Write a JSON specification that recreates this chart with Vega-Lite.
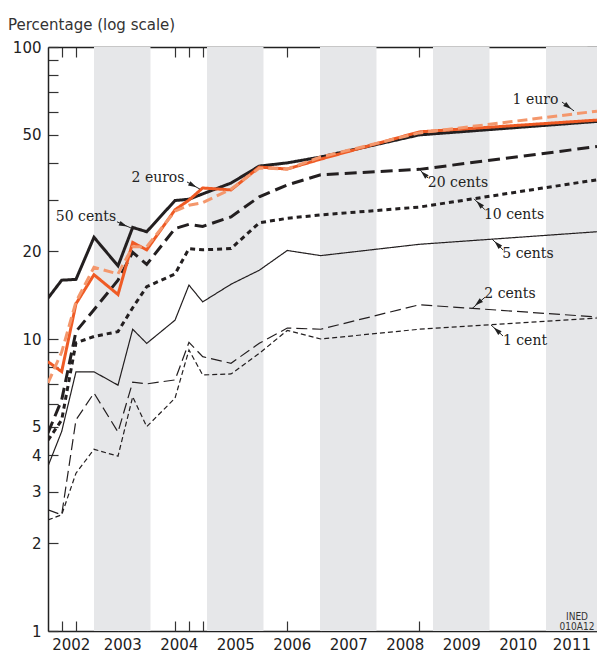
{
  "$schema": "https://vega.github.io/schema/vega-lite/v6.json",
  "width": 549,
  "height": 584,
  "autosize": "none",
  "padding": {"left": 48, "top": 47, "right": 0, "bottom": 22},
  "background": "white",
  "config": {"view": {"stroke": null}, "axis": {"grid": false}},
  "title": {"text": "Percentage (log scale)", "anchor": "start", "frame": "group", "dx": -40, "offset": -5, "baseline": "alphabetic", "font": "DejaVu Sans", "fontSize": 15, "fontWeight": "normal", "color": "#333333"},
  "datasets": {
    "bands": [{"start": 2003, "end": 2004}, {"start": 2005, "end": 2006}, {"start": 2007, "end": 2008}, {"start": 2009, "end": 2010}, {"start": 2011, "end": 2012}],
    "lines": [
      {"coin": "5 cents", "year": 2002.186, "pct": 3.67}, {"coin": "5 cents", "year": 2002.428, "pct": 4.82}, {"coin": "5 cents", "year": 2002.681, "pct": 7.72}, {"coin": "5 cents", "year": 2003.0, "pct": 7.72}, {"coin": "5 cents", "year": 2003.425, "pct": 6.95}, {"coin": "5 cents", "year": 2003.685, "pct": 10.8}, {"coin": "5 cents", "year": 2003.933, "pct": 9.66}, {"coin": "5 cents", "year": 2004.434, "pct": 11.6}, {"coin": "5 cents", "year": 2004.681, "pct": 15.3}, {"coin": "5 cents", "year": 2004.924, "pct": 13.4}, {"coin": "5 cents", "year": 2005.425, "pct": 15.4}, {"coin": "5 cents", "year": 2005.926, "pct": 17.2}, {"coin": "5 cents", "year": 2006.421, "pct": 20.1}, {"coin": "5 cents", "year": 2007.012, "pct": 19.3}, {"coin": "5 cents", "year": 2008.757, "pct": 21.1}, {"coin": "5 cents", "year": 2011.903, "pct": 23.3},
      {"coin": "2 cents", "year": 2002.186, "pct": 2.6}, {"coin": "2 cents", "year": 2002.428, "pct": 2.5}, {"coin": "2 cents", "year": 2002.681, "pct": 5.28}, {"coin": "2 cents", "year": 2003.0, "pct": 6.53}, {"coin": "2 cents", "year": 2003.425, "pct": 4.8}, {"coin": "2 cents", "year": 2003.685, "pct": 7.12}, {"coin": "2 cents", "year": 2003.933, "pct": 7.02}, {"coin": "2 cents", "year": 2004.434, "pct": 7.24}, {"coin": "2 cents", "year": 2004.681, "pct": 9.74}, {"coin": "2 cents", "year": 2004.924, "pct": 8.7}, {"coin": "2 cents", "year": 2005.425, "pct": 8.26}, {"coin": "2 cents", "year": 2005.926, "pct": 9.67}, {"coin": "2 cents", "year": 2006.421, "pct": 10.9}, {"coin": "2 cents", "year": 2007.012, "pct": 10.8}, {"coin": "2 cents", "year": 2008.757, "pct": 13.1}, {"coin": "2 cents", "year": 2011.903, "pct": 11.9},
      {"coin": "1 cent", "year": 2002.186, "pct": 2.4}, {"coin": "1 cent", "year": 2002.428, "pct": 2.5}, {"coin": "1 cent", "year": 2002.681, "pct": 3.47}, {"coin": "1 cent", "year": 2003.0, "pct": 4.19}, {"coin": "1 cent", "year": 2003.425, "pct": 3.97}, {"coin": "1 cent", "year": 2003.685, "pct": 6.34}, {"coin": "1 cent", "year": 2003.933, "pct": 5.01}, {"coin": "1 cent", "year": 2004.434, "pct": 6.27}, {"coin": "1 cent", "year": 2004.681, "pct": 9.17}, {"coin": "1 cent", "year": 2004.924, "pct": 7.53}, {"coin": "1 cent", "year": 2005.425, "pct": 7.59}, {"coin": "1 cent", "year": 2005.926, "pct": 8.93}, {"coin": "1 cent", "year": 2006.421, "pct": 10.7}, {"coin": "1 cent", "year": 2007.012, "pct": 10.0}, {"coin": "1 cent", "year": 2008.757, "pct": 10.8}, {"coin": "1 cent", "year": 2011.903, "pct": 11.8},
      {"coin": "50 cents", "year": 2002.186, "pct": 13.8}, {"coin": "50 cents", "year": 2002.428, "pct": 15.9}, {"coin": "50 cents", "year": 2002.681, "pct": 16.0}, {"coin": "50 cents", "year": 2003.0, "pct": 22.3}, {"coin": "50 cents", "year": 2003.425, "pct": 17.8}, {"coin": "50 cents", "year": 2003.685, "pct": 24.1}, {"coin": "50 cents", "year": 2003.933, "pct": 23.3}, {"coin": "50 cents", "year": 2004.434, "pct": 29.8}, {"coin": "50 cents", "year": 2004.681, "pct": 30.1}, {"coin": "50 cents", "year": 2004.924, "pct": 31.4}, {"coin": "50 cents", "year": 2005.425, "pct": 34.2}, {"coin": "50 cents", "year": 2005.926, "pct": 39.1}, {"coin": "50 cents", "year": 2006.421, "pct": 40.1}, {"coin": "50 cents", "year": 2007.012, "pct": 42.0}, {"coin": "50 cents", "year": 2008.757, "pct": 50.0}, {"coin": "50 cents", "year": 2011.903, "pct": 55.6},
      {"coin": "20 cents", "year": 2002.186, "pct": 4.77}, {"coin": "20 cents", "year": 2002.428, "pct": 6.18}, {"coin": "20 cents", "year": 2002.681, "pct": 10.6}, {"coin": "20 cents", "year": 2003.0, "pct": 12.6}, {"coin": "20 cents", "year": 2003.425, "pct": 15.9}, {"coin": "20 cents", "year": 2003.685, "pct": 19.8}, {"coin": "20 cents", "year": 2003.933, "pct": 18.0}, {"coin": "20 cents", "year": 2004.434, "pct": 23.9}, {"coin": "20 cents", "year": 2004.681, "pct": 24.7}, {"coin": "20 cents", "year": 2004.924, "pct": 24.3}, {"coin": "20 cents", "year": 2005.425, "pct": 26.2}, {"coin": "20 cents", "year": 2005.926, "pct": 30.7}, {"coin": "20 cents", "year": 2006.421, "pct": 33.7}, {"coin": "20 cents", "year": 2007.012, "pct": 36.5}, {"coin": "20 cents", "year": 2008.757, "pct": 38.1}, {"coin": "20 cents", "year": 2011.903, "pct": 45.6},
      {"coin": "10 cents", "year": 2002.186, "pct": 4.5}, {"coin": "10 cents", "year": 2002.428, "pct": 5.28}, {"coin": "10 cents", "year": 2002.681, "pct": 9.7}, {"coin": "10 cents", "year": 2003.0, "pct": 10.2}, {"coin": "10 cents", "year": 2003.425, "pct": 10.6}, {"coin": "10 cents", "year": 2003.685, "pct": 12.8}, {"coin": "10 cents", "year": 2003.933, "pct": 15.1}, {"coin": "10 cents", "year": 2004.434, "pct": 16.7}, {"coin": "10 cents", "year": 2004.681, "pct": 20.4}, {"coin": "10 cents", "year": 2004.924, "pct": 20.2}, {"coin": "10 cents", "year": 2005.425, "pct": 20.4}, {"coin": "10 cents", "year": 2005.926, "pct": 25.0}, {"coin": "10 cents", "year": 2006.421, "pct": 25.9}, {"coin": "10 cents", "year": 2007.012, "pct": 26.6}, {"coin": "10 cents", "year": 2008.757, "pct": 28.3}, {"coin": "10 cents", "year": 2011.903, "pct": 35.1},
      {"coin": "2 euros", "year": 2002.186, "pct": 8.36}, {"coin": "2 euros", "year": 2002.428, "pct": 7.73}, {"coin": "2 euros", "year": 2002.681, "pct": 13.2}, {"coin": "2 euros", "year": 2003.0, "pct": 16.6}, {"coin": "2 euros", "year": 2003.425, "pct": 14.2}, {"coin": "2 euros", "year": 2003.685, "pct": 21.4}, {"coin": "2 euros", "year": 2003.933, "pct": 20.2}, {"coin": "2 euros", "year": 2004.434, "pct": 27.7}, {"coin": "2 euros", "year": 2004.681, "pct": 29.9}, {"coin": "2 euros", "year": 2004.924, "pct": 32.9}, {"coin": "2 euros", "year": 2005.425, "pct": 32.4}, {"coin": "2 euros", "year": 2005.926, "pct": 38.8}, {"coin": "2 euros", "year": 2006.421, "pct": 38.2}, {"coin": "2 euros", "year": 2007.012, "pct": 41.3}, {"coin": "2 euros", "year": 2008.757, "pct": 51.2}, {"coin": "2 euros", "year": 2011.903, "pct": 56.2},
      {"coin": "1 euro", "year": 2002.186, "pct": 7.07}, {"coin": "1 euro", "year": 2002.428, "pct": 9.02}, {"coin": "1 euro", "year": 2002.681, "pct": 13.4}, {"coin": "1 euro", "year": 2003.0, "pct": 17.6}, {"coin": "1 euro", "year": 2003.425, "pct": 16.7}, {"coin": "1 euro", "year": 2003.685, "pct": 20.7}, {"coin": "1 euro", "year": 2003.933, "pct": 20.7}, {"coin": "1 euro", "year": 2004.434, "pct": 27.4}, {"coin": "1 euro", "year": 2004.681, "pct": 28.7}, {"coin": "1 euro", "year": 2004.924, "pct": 29.3}, {"coin": "1 euro", "year": 2005.425, "pct": 32.6}, {"coin": "1 euro", "year": 2005.926, "pct": 38.5}, {"coin": "1 euro", "year": 2006.421, "pct": 38.2}, {"coin": "1 euro", "year": 2007.012, "pct": 42.0}, {"coin": "1 euro", "year": 2008.757, "pct": 50.8}, {"coin": "1 euro", "year": 2011.903, "pct": 60.3}
    ],
    "annotations": [
      {"label": "1 euro", "tx": 2010.814, "ty": 65.8, "x1": 2011.283, "y1": 64.8, "x2": 2011.496, "y2": 60.4, "ax": 2011.39, "ay": 62.6, "angle": 127},
      {"label": "2 euros", "tx": 2004.133, "ty": 35.6, "x1": 2004.646, "y1": 34.5, "x2": 2004.876, "y2": 32.6, "ax": 2004.75, "ay": 33.6, "angle": 118},
      {"label": "50 cents", "tx": 2002.858, "ty": 26.2, "x1": 2003.407, "y1": 25.2, "x2": 2003.655, "y2": 24.0, "ax": 2003.52, "ay": 24.6, "angle": 113},
      {"label": "20 cents", "tx": 2009.442, "ty": 34.2, "x1": 2008.912, "y1": 35.6, "x2": 2008.77, "y2": 37.9, "ax": 2008.84, "ay": 36.7, "angle": 315},
      {"label": "10 cents", "tx": 2010.434, "ty": 26.6, "x1": 2009.92, "y1": 27.7, "x2": 2009.726, "y2": 30.2, "ax": 2009.82, "ay": 29.0, "angle": 315},
      {"label": "5 cents", "tx": 2010.681, "ty": 19.55, "x1": 2010.239, "y1": 20.2, "x2": 2010.044, "y2": 22.0, "ax": 2010.14, "ay": 21.1, "angle": 315},
      {"label": "2 cents", "tx": 2010.363, "ty": 14.26, "x1": 2009.92, "y1": 13.9, "x2": 2009.69, "y2": 12.7, "ax": 2009.8, "ay": 13.3, "angle": 229},
      {"label": "1 cent", "tx": 2010.628, "ty": 9.84, "x1": 2010.239, "y1": 10.24, "x2": 2010.027, "y2": 11.17, "ax": 2010.13, "ay": 10.7, "angle": 312}
    ],
    "notes": [{"t": "INED\n010A12", "x": 2011.549, "y": 1.121}]
  },
  "layer": [
    {
      "data": {"name": "bands"},
      "mark": {"type": "rect", "color": "#E6E7E9", "clip": true},
      "encoding": {
        "x": {"field": "start", "type": "quantitative", "scale": {"domain": [2002.186, 2011.903], "nice": false, "zero": false},
          "axis": {"orient": "bottom", "values": [2002.59, 2003.5, 2004.5, 2005.5, 2006.5, 2007.5, 2008.5, 2009.5, 2010.5, 2011.45], "labelExpr": "toString(floor(datum.value))", "ticks": false, "domain": true, "domainColor": "#222222", "domainWidth": 1.5, "labelPadding": 18, "labelBaseline": "alphabetic", "labelFont": "DejaVu Sans", "labelFontSize": 15, "labelColor": "#222222", "labelFlush": false, "labelOverlap": false, "title": null, "grid": false}},
        "x2": {"field": "end"},
        "y": {"datum": 1, "type": "quantitative", "scale": {"type": "log", "domain": [1, 100], "nice": false},
          "axis": {"orient": "left", "values": [1, 2, 3, 4, 5, 6, 7, 8, 9, 10, 20, 30, 40, 50, 60, 70, 80, 90, 100], "labelExpr": "indexof([1,2,3,4,5,10,20,50,100], datum.value) >= 0 ? toString(datum.value) : ''", "tickSize": -10, "tickColor": "#333333", "tickWidth": 1.2, "domain": true, "domainColor": "#222222", "domainWidth": 1.5, "labelPadding": 17, "labelFont": "DejaVu Sans", "labelFontSize": 15, "labelColor": "#222222", "labelOverlap": false, "labelFlush": false, "title": null, "grid": false}},
        "y2": {"datum": 100}
      }
    },
    {
      "data": {"name": "lines"},
      "transform": [{"filter": "indexof(['5 cents','2 cents','1 cent'], datum.coin) >= 0"}],
      "mark": {"type": "line", "clip": true, "strokeWidth": 1.2, "strokeCap": "butt"},
      "encoding": {
        "x": {"field": "year", "type": "quantitative", "scale": {"domain": [2002.186, 2011.903], "nice": false, "zero": false},
          "axis": {"orient": "top", "values": [2002.428, 2002.681, 2003.425, 2003.685, 2003.933, 2004.434, 2004.681, 2004.924, 2005.425, 2005.926, 2006.421, 2007.012, 2008.757], "labels": false, "tickSize": -10, "tickColor": "#333333", "tickWidth": 1.2, "domain": true, "domainColor": "#222222", "domainWidth": 1.5, "title": null, "grid": false}},
        "y": {"field": "pct", "type": "quantitative", "scale": {"type": "log", "domain": [1, 100], "nice": false},
          "axis": {"orient": "right", "values": [1, 2, 3, 4, 5, 6, 7, 8, 9, 10, 20, 30, 40, 50, 60, 70, 80, 90, 100], "labels": false, "tickSize": -10, "tickColor": "#333333", "tickWidth": 1.2, "domain": false, "title": null, "grid": false}},
        "color": {"field": "coin", "type": "nominal", "legend": null, "scale": {"domain": ["50 cents", "20 cents", "10 cents", "5 cents", "2 cents", "1 cent", "2 euros", "1 euro"], "range": ["#231F20", "#231F20", "#231F20", "#231F20", "#231F20", "#231F20", "#EF5B25", "#F4976C"]}},
        "strokeDash": {"field": "coin", "type": "nominal", "legend": null, "scale": {"domain": ["50 cents", "20 cents", "10 cents", "5 cents", "2 cents", "1 cent", "2 euros", "1 euro"], "range": [[1, 0], [12, 6], [5, 4], [1, 0], [11, 5], [5, 3], [1, 0], [10, 5]]}}
      }
    },
    {
      "data": {"name": "lines"},
      "transform": [{"filter": "indexof(['5 cents','2 cents','1 cent'], datum.coin) < 0"}],
      "mark": {"type": "line", "clip": true, "strokeWidth": 3, "strokeCap": "butt"},
      "encoding": {
        "x": {"field": "year", "type": "quantitative", "scale": {"domain": [2002.186, 2011.903], "nice": false, "zero": false}, "axis": null},
        "y": {"field": "pct", "type": "quantitative", "scale": {"type": "log", "domain": [1, 100], "nice": false}, "axis": null},
        "color": {"field": "coin", "type": "nominal", "legend": null, "scale": {"domain": ["50 cents", "20 cents", "10 cents", "5 cents", "2 cents", "1 cent", "2 euros", "1 euro"], "range": ["#231F20", "#231F20", "#231F20", "#231F20", "#231F20", "#231F20", "#EF5B25", "#F4976C"]}},
        "strokeDash": {"field": "coin", "type": "nominal", "legend": null, "scale": {"domain": ["50 cents", "20 cents", "10 cents", "5 cents", "2 cents", "1 cent", "2 euros", "1 euro"], "range": [[1, 0], [12, 6], [5, 4], [1, 0], [11, 5], [5, 3], [1, 0], [10, 5]]}}
      }
    },
    {
      "data": {"name": "annotations"},
      "mark": {"type": "rule", "color": "#222222", "strokeWidth": 1},
      "encoding": {
        "x": {"field": "x1", "type": "quantitative", "scale": {"domain": [2002.186, 2011.903], "nice": false, "zero": false}, "axis": null},
        "x2": {"field": "x2"},
        "y": {"field": "y1", "type": "quantitative", "scale": {"type": "log", "domain": [1, 100], "nice": false}, "axis": null},
        "y2": {"field": "y2"}
      }
    },
    {
      "data": {"name": "annotations"},
      "mark": {"type": "point", "shape": "M0,-1L0.6,1L-0.6,1Z", "filled": true, "color": "#222222", "size": 70, "opacity": 1},
      "encoding": {
        "x": {"field": "ax", "type": "quantitative", "scale": {"domain": [2002.186, 2011.903], "nice": false, "zero": false}, "axis": null},
        "y": {"field": "ay", "type": "quantitative", "scale": {"type": "log", "domain": [1, 100], "nice": false}, "axis": null},
        "angle": {"field": "angle", "type": "quantitative", "scale": null}
      }
    },
    {
      "data": {"name": "annotations"},
      "mark": {"type": "text", "font": "DejaVu Serif", "fontSize": 14, "color": "#222222", "align": "center", "baseline": "middle"},
      "encoding": {
        "x": {"field": "tx", "type": "quantitative", "scale": {"domain": [2002.186, 2011.903], "nice": false, "zero": false},
          "axis": {"orient": "bottom", "values": [2002.428, 2002.681, 2003.425, 2003.685, 2003.933, 2004.434, 2004.681, 2004.924, 2005.425, 2005.926, 2006.421, 2007.012, 2008.757], "labels": false, "tickSize": -10, "tickColor": "#333333", "tickWidth": 1.2, "domain": false, "title": null, "grid": false}},
        "y": {"field": "ty", "type": "quantitative", "scale": {"type": "log", "domain": [1, 100], "nice": false}, "axis": null},
        "text": {"field": "label"}
      }
    },
    {
      "data": {"name": "notes"},
      "mark": {"type": "text", "font": "DejaVu Sans Condensed, Liberation Sans Narrow, Liberation Sans", "fontSize": 10, "lineBreak": "\n", "lineHeight": 10.5, "color": "#333333", "align": "center", "baseline": "middle"},
      "encoding": {
        "x": {"field": "x", "type": "quantitative", "scale": {"domain": [2002.186, 2011.903], "nice": false, "zero": false}, "axis": null},
        "y": {"field": "y", "type": "quantitative", "scale": {"type": "log", "domain": [1, 100], "nice": false}, "axis": null},
        "text": {"field": "t"}
      }
    }
  ],
  "resolve": {"axis": {"x": "independent", "y": "independent"}}
}
